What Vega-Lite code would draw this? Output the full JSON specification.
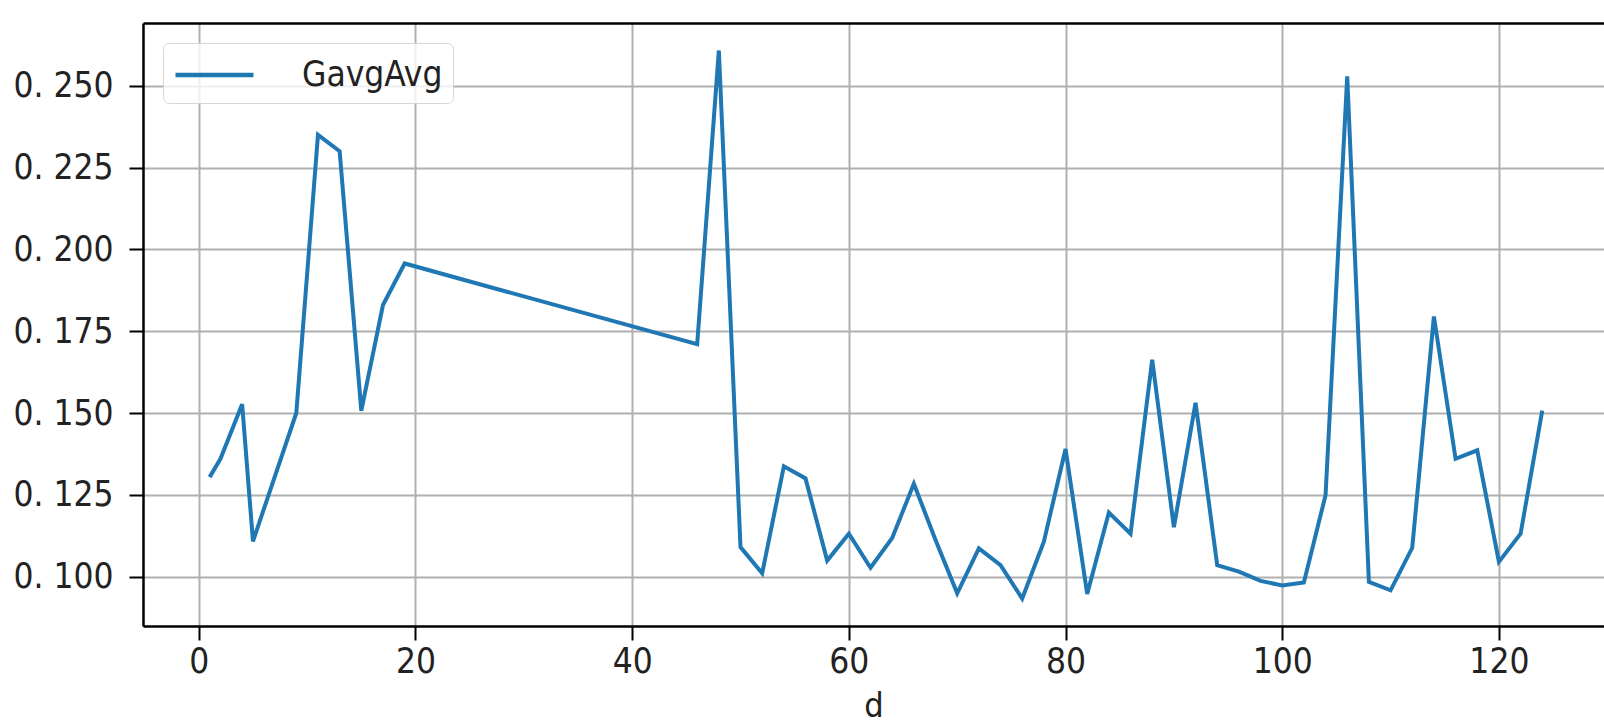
{
  "$schema": "https://vega.github.io/schema/vega-lite/v6.json",
  "autosize": {"type": "none"},
  "padding": {"left": 143, "top": 23, "right": 0, "bottom": 101},
  "width": 1461,
  "height": 603,
  "background": "white",
  "data": {"values": [
    {"d": 1, "GavgAvg": 0.1304},
    {"d": 2, "GavgAvg": 0.136},
    {"d": 4, "GavgAvg": 0.1527},
    {"d": 5, "GavgAvg": 0.1108},
    {"d": 9, "GavgAvg": 0.150},
    {"d": 11, "GavgAvg": 0.235},
    {"d": 13, "GavgAvg": 0.230},
    {"d": 15, "GavgAvg": 0.1507},
    {"d": 17, "GavgAvg": 0.183},
    {"d": 19, "GavgAvg": 0.1957},
    {"d": 46, "GavgAvg": 0.171},
    {"d": 48, "GavgAvg": 0.2608},
    {"d": 50, "GavgAvg": 0.109},
    {"d": 52, "GavgAvg": 0.101},
    {"d": 54, "GavgAvg": 0.1337},
    {"d": 56, "GavgAvg": 0.130},
    {"d": 58, "GavgAvg": 0.1049},
    {"d": 60, "GavgAvg": 0.1131},
    {"d": 62, "GavgAvg": 0.1027},
    {"d": 64, "GavgAvg": 0.1118},
    {"d": 66, "GavgAvg": 0.1284},
    {"d": 68, "GavgAvg": 0.1112},
    {"d": 70, "GavgAvg": 0.0949},
    {"d": 72, "GavgAvg": 0.1086},
    {"d": 74, "GavgAvg": 0.1035},
    {"d": 76, "GavgAvg": 0.0933},
    {"d": 78, "GavgAvg": 0.1107},
    {"d": 80, "GavgAvg": 0.139},
    {"d": 82, "GavgAvg": 0.0947},
    {"d": 84, "GavgAvg": 0.1196},
    {"d": 86, "GavgAvg": 0.1131},
    {"d": 88, "GavgAvg": 0.1663},
    {"d": 90, "GavgAvg": 0.1151},
    {"d": 92, "GavgAvg": 0.1531},
    {"d": 94, "GavgAvg": 0.1035},
    {"d": 96, "GavgAvg": 0.1015},
    {"d": 98, "GavgAvg": 0.0987},
    {"d": 100, "GavgAvg": 0.0973},
    {"d": 102, "GavgAvg": 0.0982},
    {"d": 104, "GavgAvg": 0.1249},
    {"d": 106, "GavgAvg": 0.2529},
    {"d": 108, "GavgAvg": 0.0984},
    {"d": 110, "GavgAvg": 0.0958},
    {"d": 112, "GavgAvg": 0.1088},
    {"d": 114, "GavgAvg": 0.1795},
    {"d": 116, "GavgAvg": 0.136},
    {"d": 118, "GavgAvg": 0.1386},
    {"d": 120, "GavgAvg": 0.1045},
    {"d": 122, "GavgAvg": 0.1131},
    {"d": 124, "GavgAvg": 0.1507}
  ]},
  "layer": [
    {
      "mark": {"type": "line", "strokeWidth": 4},
      "encoding": {
        "x": {
          "field": "d", "type": "quantitative",
          "scale": {"domain": [-5.15, 129.7], "nice": false, "zero": false},
          "axis": {"orient": "bottom", "title": "d", "values": [0, 20, 40, 60, 80, 100, 120], "labelPadding": 4, "titlePadding": 10}
        },
        "y": {
          "field": "GavgAvg", "type": "quantitative",
          "scale": {"domain": [0.0849, 0.2692], "nice": false, "zero": false},
          "axis": {"title": null, "values": [0.1, 0.125, 0.15, 0.175, 0.2, 0.225, 0.25], "labelExpr": "replace(format(datum.value, '.3f'), '.', '. ')", "labelPadding": 16}
        },
        "color": {
          "datum": "GavgAvg",
          "scale": {"range": ["#1f77b4"]},
          "legend": {
            "title": null, "orient": "none", "legendX": 20, "legendY": 20,
            "symbolType": "M-1,0H3", "symbolSize": 1521, "symbolStrokeWidth": 4.5,
            "labelFont": "'Liberation Sans Narrow', 'DejaVu Sans Condensed', 'Noto Sans CJK JP'",
            "labelFontSize": 35, "labelColor": "#222", "labelOffset": 85,
            "padding": 10, "strokeColor": "#d6d6d6", "cornerRadius": 6,
            "fillColor": "rgba(255,255,255,0.8)"
          }
        }
      }
    },
    {
      "mark": {"type": "line", "strokeOpacity": 0},
      "encoding": {
        "x": {"field": "d", "type": "quantitative", "axis": {"orient": "top", "labels": false, "ticks": false, "grid": false, "title": null, "domain": true}},
        "y": {"field": "GavgAvg", "type": "quantitative"}
      }
    }
  ],
  "resolve": {"axis": {"x": "independent"}},
  "config": {
    "view": {"stroke": null},
    "axis": {
      "labelFont": "'Liberation Sans Narrow', 'DejaVu Sans Condensed', 'Noto Sans CJK JP'",
      "labelFontSize": 35, "labelColor": "#222",
      "titleFont": "'Liberation Sans Narrow', 'DejaVu Sans Condensed', 'Noto Sans CJK JP'",
      "titleFontSize": 34, "titleFontWeight": "normal", "titleColor": "#222",
      "domainColor": "#000", "domainWidth": 2.5,
      "tickColor": "#000", "tickWidth": 2, "tickSize": 14,
      "gridColor": "#b0b0b0", "gridWidth": 2, "grid": true
    }
  }
}
